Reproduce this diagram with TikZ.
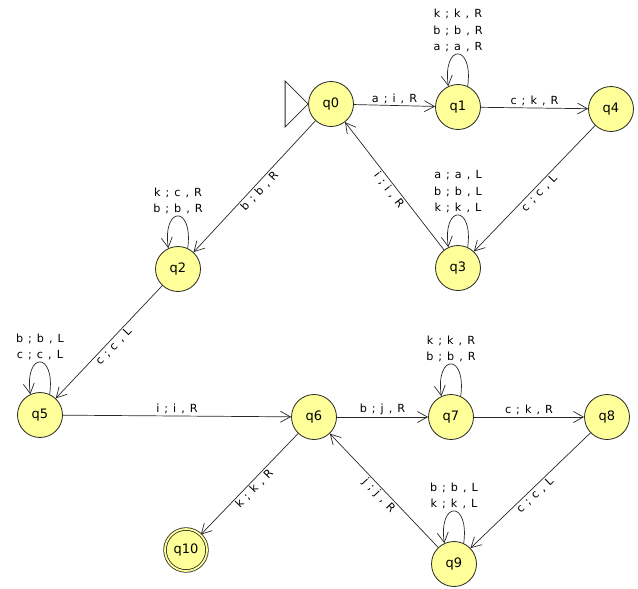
\documentclass[tikz,border=0pt]{standalone}
\usepackage{fontspec}
\setmainfont{DejaVu Sans}
\usetikzlibrary{arrows.meta}
\definecolor{stfill}{RGB}{255,255,153}
\definecolor{ln}{RGB}{40,40,40}
\newcommand\mylblfont{\fontsize{11.2}{16.5}\selectfont\spaceskip 0.45em plus 0.1em\relax}
\begin{document}
\begin{tikzpicture}[x=1pt,y=-1pt,
  state/.style={circle,draw=ln,fill=stfill,line width=0.8pt,minimum size=45pt,inner sep=0pt,
    font=\fontsize{13}{15}\selectfont},
  acc/.style={state,double=stfill,double distance=1.8pt,minimum size=42pt},
  tr/.style={draw=ln,line width=0.7pt,-{Straight Barb[length=10pt,width=11pt]}},
  lbl/.style={inner sep=1.5pt,align=center,font=\mylblfont},
  initarrow/.style={draw=ln,line width=0.8pt,fill=white}
]
\useasboundingbox (0,0) rectangle (638,589);

\node[state] (q0) at (331,104) {q0};
\node[state] (q1) at (458,107) {q1};
\node[state] (q4) at (611,109) {q4};
\node[state] (q3) at (458,268) {q3};
\node[state] (q2) at (178,269) {q2};
\node[state] (q5) at (40,415) {q5};
\node[state] (q6) at (314,417) {q6};
\node[state] (q7) at (451,417) {q7};
\node[state] (q8) at (607,417) {q8};
\node[state] (q9) at (454,564) {q9};
\node[acc] (q10) at (186,550) {q10};

% initial marker
\draw[initarrow] (q0.west) -- ++(-23,-23) -- ++(0,46) -- cycle;

% straight transitions
\draw[tr] (q0) -- node[lbl,above] {a ; i , R} (q1);
\draw[tr] (q1) -- node[lbl,above] {c ; k , R} (q4);
\draw[tr] (q4) -- node[lbl,sloped,below] {c ; c , L} (q3);
\draw[tr] (q3) -- node[lbl,sloped,below] {i ; i , R} (q0);
\draw[tr] (q0) -- node[lbl,sloped,below] {b ; b , R} (q2);
\draw[tr] (q2) -- node[lbl,sloped,below] {c ; c , L} (q5);
\draw[tr] (q5) -- node[lbl,above] {i ; i , R} (q6);
\draw[tr] (q6) -- node[lbl,above] {b ; j , R} (q7);
\draw[tr] (q7) -- node[lbl,above] {c ; k , R} (q8);
\draw[tr] (q8) -- node[lbl,sloped,below] {c ; c , L} (q9);
\draw[tr] (q9) -- node[lbl,sloped,below] {j ; j , R} (q6);
\draw[tr] (q6) -- node[lbl,sloped,below] {k ; k , R} (q10);

% self loops
\tikzset{loopup/.style={to path={.. controls +(6,-43) and +(-6,-43) .. (\tikztotarget) \tikztonodes}}}
\draw[tr] (q1.65) to[loopup] node[lbl,above] {k ; k , R\\b ; b , R\\a ; a , R} (q1.115);
\draw[tr] (q3.65) to[loopup] node[lbl,above] {a ; a , L\\b ; b , L\\k ; k , L} (q3.115);
\draw[tr] (q2.65) to[loopup] node[lbl,above] {k ; c , R\\b ; b , R} (q2.115);
\draw[tr] (q5.65) to[loopup] node[lbl,above] {b ; b , L\\c ; c , L} (q5.115);
\draw[tr] (q7.65) to[loopup] node[lbl,above] {k ; k , R\\b ; b , R} (q7.115);
\draw[tr] (q9.65) to[loopup] node[lbl,above] {b ; b , L\\k ; k , L} (q9.115);
\end{tikzpicture}
\end{document}
